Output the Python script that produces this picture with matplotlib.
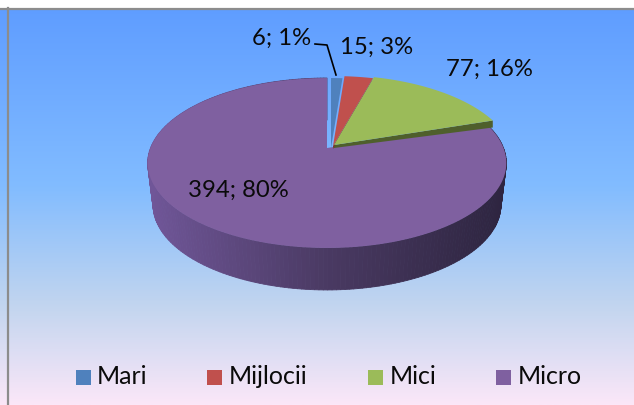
#!/usr/bin/env python3
"""Pie with fake 3D depth on a blue-to-pink gradient panel, drawn in pixel coords."""
import matplotlib

matplotlib.use("Agg")
import matplotlib.pyplot as plt
import numpy as np
from matplotlib.collections import PolyCollection
from matplotlib.colors import LinearSegmentedColormap
from matplotlib.patches import Polygon, Rectangle

CATEGORIES = ["Mari", "Mijlocii", "Mici", "Micro"]
VALUES = [6, 15, 77, 394]
PERCENTS = [1, 3, 16, 80]
COLORS = ["#4f81bd", "#c0504d", "#9bbb59", "#7f60a0"]

W, H = 634, 405
FONT = "Lato"

# perspective of the pie plane
RX, RY, K = 176.5, 82.3, 0.1765
DEPTH = 42
APEX = {"Mari": (331, 148), "Mijlocii": (333, 146), "Mici": (334, 145), "Micro": (327, 148)}


def rim(theta, apex):
    """Screen position of the pie edge at theta (clockwise from 12 o'clock)."""
    u, v = np.sin(theta), np.cos(theta)
    w = 1 + K * v
    return apex[0] + RX * u / w, apex[1] - RY * v / w


def wedge_top(t0, t1, apex):
    t = np.linspace(t0, t1, 200)
    x, y = rim(t, apex)
    return np.vstack([[apex], np.column_stack([x, y])])


fig = plt.figure(figsize=(W / 100, H / 100), dpi=100)
ax = fig.add_axes([0, 0, 1, 1])
ax.set_xlim(0, W)
ax.set_ylim(H, 0)
ax.axis("off")

# panel background
bg = LinearSegmentedColormap.from_list(
    "panel",
    [(0.0, "#5f9dff"), (0.45, "#82bcff"), (0.75, "#c2d5ef"), (1.0, "#fbe7f8")],
)
ax.imshow(
    np.linspace(0, 1, 256)[:, None],
    extent=(0, W, H, 8),
    cmap=bg,
    aspect="auto",
    zorder=0,
)
ax.set_xlim(0, W)
ax.set_ylim(H, 0)
ax.plot([0, W], [8.5, 8.5], color="#8c8c8c", lw=1.6, zorder=1)
ax.plot([8, 8], [8, H], color="#8c8c8c", lw=1.6, zorder=1)

fracs = np.cumsum([0] + VALUES) / sum(VALUES) * 2 * np.pi
angles = {c: (fracs[i], fracs[i + 1]) for i, c in enumerate(CATEGORIES)}
colors = dict(zip(CATEGORIES, COLORS))

# side wall of the big slice, shaded left to right
t = np.linspace(angles["Micro"][0], 2 * np.pi, 241)
xs, ys = rim(t, APEX["Micro"])
cx = APEX["Micro"][0]
xb = cx + (xs - cx) * 0.97
yb = ys + DEPTH
strips = [
    [(xs[i], ys[i]), (xs[i + 1], ys[i + 1]), (xb[i + 1], yb[i + 1]), (xb[i], yb[i])]
    for i in range(len(t) - 1)
]
shade = LinearSegmentedColormap.from_list("wall", ["#705698", "#4a3a63", "#2e2540"])
pos = np.clip((xs[:-1] - xs.min()) / (xs.max() - xs.min()), 0, 1)
ax.add_collection(
    PolyCollection(strips, facecolors=shade(pos), edgecolors=shade(pos), linewidths=0.6, zorder=2)
)

# top of the big slice
ax.add_patch(
    Polygon(wedge_top(*angles["Micro"], APEX["Micro"]), closed=True, fc=colors["Micro"], ec="none", zorder=3)
)

# cut faces of the pulled out slices
end_x, end_y = rim(angles["Mici"][1], APEX["Mici"])
ax0, ay0 = APEX["Mici"]
ax.add_patch(
    Polygon(
        [(ax0, ay0), (end_x, end_y), (end_x, end_y + 7), (ax0, ay0 + 3)],
        closed=True, fc="#4f5f2c", ec="none", zorder=4,
    )
)
end_x, end_y = rim(angles["Mijlocii"][1], APEX["Mijlocii"])
ax0, ay0 = APEX["Mijlocii"]
ax.add_patch(
    Polygon(
        [(ax0, ay0), (end_x, end_y), (end_x - 1, end_y + 3), (ax0, ay0 + 3)],
        closed=True, fc="#7d3432", ec="none", zorder=4,
    )
)

# tops of the small slices
for c in ["Mari", "Mijlocii", "Mici"]:
    ax.add_patch(
        Polygon(wedge_top(*angles[c], APEX[c]), closed=True, fc=colors[c], ec="none", zorder=5)
    )

# data labels
label_pos = [(282, 38), (377, 47), (489, 69), (238, 190)]
for v, p, (lx, ly) in zip(VALUES, PERCENTS, label_pos):
    ax.text(lx, ly, f"{v}; {p}%", ha="center", va="center", fontsize=17.2,
            family=FONT, color="#0a0a0a", zorder=7)
ax.plot([315, 327, 336], [44, 45, 75], color="black", lw=1.2, zorder=6)

# legend
leg_sq = [76, 207, 368, 496]
leg_txt = [97, 229, 390, 518]
for c, sx, tx in zip(CATEGORIES, leg_sq, leg_txt):
    ax.add_patch(Rectangle((sx, 370), 15, 15, fc=colors[c], ec="none", zorder=6))
    ax.text(tx, 377, c, ha="left", va="center", fontsize=18, family=FONT,
            color="#0a0a0a", zorder=7)

fig.savefig("out.png", dpi=100)
plt.close(fig)
